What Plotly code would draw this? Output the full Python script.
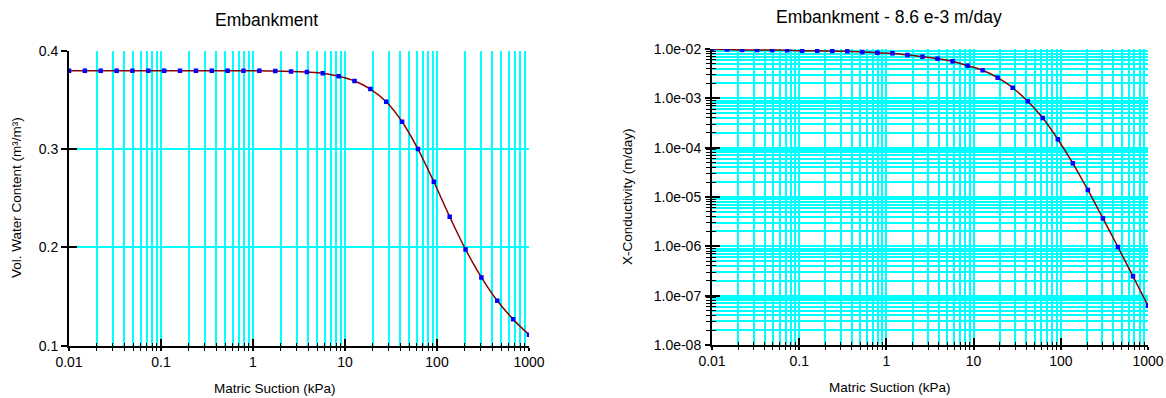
import plotly.graph_objects as go

W, H = 1166, 398

# ---------------- data ----------------
suction = [0.01, 0.014874, 0.022122, 0.032903, 0.048939, 0.07279, 0.10826, 0.16103,
           0.2395, 0.35622, 0.52983, 0.78805, 1.1721, 1.7433, 2.5929, 3.8566, 5.7362,
           8.5317, 12.69, 18.874, 28.072, 41.753, 62.102, 92.367, 137.38, 204.34,
           303.92, 452.04, 672.34, 1000.0]

vwc = [0.3800, 0.3800, 0.3800, 0.3800, 0.3800, 0.3800, 0.3800, 0.3800, 0.3800, 0.3800,
       0.3800, 0.3799, 0.3798, 0.3796, 0.3792, 0.3785, 0.3774, 0.3742, 0.3695, 0.3613,
       0.3484, 0.3280, 0.3002, 0.2669, 0.2313, 0.1980, 0.1695, 0.1457, 0.1268, 0.1111]

kx = [9.86e-3, 9.80e-3, 9.55e-3, 9.55e-3, 9.50e-3, 9.45e-3, 9.24e-3, 9.20e-3, 9.11e-3, 8.98e-3,
      8.69e-3, 8.41e-3, 8.18e-3, 7.56e-3, 6.98e-3, 6.36e-3, 5.63e-3, 4.59e-3, 3.70e-3, 2.62e-3,
      1.64e-3, 8.70e-4, 3.99e-4, 1.48e-4, 4.82e-5, 1.39e-5, 3.70e-6, 9.69e-7, 2.47e-7, 6.25e-8]

x_major = [0.01, 0.1, 1, 10, 100, 1000]
x_major_text = ["0.01", "0.1", "1", "10", "100", "1000"]
x_minor = [m * d for d in [0.01, 0.1, 1, 10, 100] for m in range(2, 10)]

vwc_major = [0.1, 0.2, 0.3, 0.4]
vwc_major_text = ["0.1", "0.2", "0.3", "0.4"]

k_major = [1e-8, 1e-7, 1e-6, 1e-5, 1e-4, 1e-3, 1e-2]
k_major_text = ["1.0e-08", "1.0e-07", "1.0e-06", "1.0e-05", "1.0e-04", "1.0e-03", "1.0e-02"]
k_minor = [m * d for d in [1e-8, 1e-7, 1e-6, 1e-5, 1e-4, 1e-3] for m in range(2, 10)]

title_left = "Embankment"
title_right = "Embankment - 8.6 e-3 m/day"
xlabel = "Matric Suction (kPa)"
ylabel_left = "Vol. Water Content (m³/m³)"
ylabel_right = "X-Conductivity (m/day)"

# ---------------- style ----------------
FONT = "Liberation Sans, Arial, sans-serif"
CYAN = "#00FFFF"
LINE = "#8B0000"
MARK = "#0000FF"
GW = 1.5


def fx(px):
    return px / W


def fy(py):
    return 1 - py / H


# plot areas (pixels)
L_x0, L_x1, L_y0, L_y1 = 69, 529, 51, 345.7
R_x0, R_x1, R_y0, R_y1 = 712, 1148, 49, 345

fig = go.Figure()

fig.add_trace(go.Scatter(x=suction, y=vwc, xaxis="x", yaxis="y", mode="lines+markers",
                         line=dict(color=LINE, width=1.5, shape="spline", smoothing=0.8),
                         marker=dict(color=MARK, size=4.5, symbol="square"),
                         showlegend=False, hoverinfo="x+y"))
fig.add_trace(go.Scatter(x=suction, y=kx, xaxis="x2", yaxis="y2", mode="lines+markers",
                         line=dict(color=LINE, width=1.5, shape="spline", smoothing=0.8),
                         marker=dict(color=MARK, size=4.5, symbol="square"),
                         showlegend=False, hoverinfo="x+y"))
# empty traces on separate subplots that only carry the inner tick marks
fig.add_trace(go.Scatter(x=[None], y=[None], xaxis="x3", yaxis="y3", showlegend=False, hoverinfo="skip"))
fig.add_trace(go.Scatter(x=[None], y=[None], xaxis="x4", yaxis="y4", showlegend=False, hoverinfo="skip"))

tickfont = dict(family=FONT, size=14, color="black")

common_x = dict(type="log", range=[-2, 3], showline=True, linecolor="black", linewidth=2,
                tickmode="array", tickvals=x_major, ticktext=x_major_text,
                ticks="outside", ticklen=3, tickwidth=1.5, tickcolor="black",
                showgrid=True, gridcolor=CYAN, gridwidth=GW,
                minor=dict(tickmode="array", tickvals=x_minor, ticks="outside", ticklen=3,
                           tickwidth=1.2, tickcolor="black", showgrid=True, gridcolor=CYAN, gridwidth=GW),
                tickfont=tickfont, zeroline=False, automargin=False, fixedrange=True,
                ticklabelstandoff=-1)

inner_x = dict(type="log", range=[-2, 3], showline=False,
               tickmode="array", tickvals=x_major, ticktext=["" for _ in x_major],
               ticks="inside", ticklen=7, tickwidth=1.5, tickcolor="black",
               showgrid=False, showticklabels=False,
               minor=dict(tickmode="array", tickvals=x_minor, ticks="inside", ticklen=3,
                          tickwidth=1.2, tickcolor="black", showgrid=False),
               zeroline=False, automargin=False, fixedrange=True)

fig.update_layout(
    width=W, height=H,
    margin=dict(l=0, r=0, t=0, b=0),
    paper_bgcolor="white", plot_bgcolor="rgba(0,0,0,0)",
    font=dict(family=FONT, color="black"),
    xaxis=dict(**common_x, domain=[fx(L_x0), fx(L_x1)], anchor="y"),
    yaxis=dict(range=[0.1, 0.4], domain=[fy(L_y1), fy(L_y0)], anchor="x",
               showline=True, linecolor="black", linewidth=2,
               tickmode="array", tickvals=vwc_major, ticktext=vwc_major_text,
               ticks="outside", ticklen=6, tickwidth=1.5, tickcolor="black",
               showgrid=True, gridcolor=CYAN, gridwidth=GW,
               tickfont=tickfont, zeroline=False, automargin=False, fixedrange=True,
               ticklabelstandoff=0),
    xaxis3=dict(**inner_x, domain=[fx(L_x0), fx(L_x1)], anchor="y3"),
    yaxis3=dict(range=[0.1, 0.4], domain=[fy(L_y1), fy(L_y0)], anchor="x3",
                showline=False, tickmode="array", tickvals=vwc_major,
                ticktext=["" for _ in vwc_major],
                ticks="inside", ticklen=8, tickwidth=1.5, tickcolor="black",
                showgrid=False, showticklabels=False, zeroline=False, automargin=False,
                fixedrange=True),
    xaxis2=dict(**common_x, domain=[fx(R_x0), fx(R_x1)], anchor="y2"),
    yaxis2=dict(type="log", range=[-8, -2], domain=[fy(R_y1), fy(R_y0)], anchor="x2",
                showline=True, linecolor="black", linewidth=2,
                tickmode="array", tickvals=k_major, ticktext=k_major_text,
                ticks="outside", ticklen=5, tickwidth=1.5, tickcolor="black",
                showgrid=True, gridcolor=CYAN, gridwidth=GW,
                minor=dict(tickmode="array", tickvals=k_minor, ticks="outside", ticklen=4,
                           tickwidth=1.2, tickcolor="black", showgrid=True, gridcolor=CYAN, gridwidth=GW),
                tickfont=tickfont, zeroline=False, automargin=False, fixedrange=True,
                ticklabelstandoff=1),
    xaxis4=dict(**inner_x, domain=[fx(R_x0), fx(R_x1)], anchor="y4"),
    yaxis4=dict(type="log", range=[-8, -2], domain=[fy(R_y1), fy(R_y0)], anchor="x4",
                showline=False, tickmode="array", tickvals=k_major, ticktext=["" for _ in k_major],
                ticks="inside", ticklen=8, tickwidth=1.5, tickcolor="black",
                minor=dict(tickmode="array", tickvals=k_minor, ticks="inside", ticklen=4,
                           tickwidth=1.2, tickcolor="black", showgrid=False),
                showgrid=False, showticklabels=False, zeroline=False, automargin=False,
                fixedrange=True),
)

ann = []
ann.append(dict(text=title_left, x=fx(266), y=fy(20), xref="paper", yref="paper",
                xanchor="center", yanchor="middle", showarrow=False,
                font=dict(family=FONT, size=17.5, color="black")))
ann.append(dict(text=title_right, x=fx(888.5), y=fy(17), xref="paper", yref="paper",
                xanchor="center", yanchor="middle", showarrow=False,
                font=dict(family=FONT, size=17.5, color="black")))
ann.append(dict(text=xlabel, x=fx(275), y=fy(388), xref="paper", yref="paper",
                xanchor="center", yanchor="middle", showarrow=False,
                font=dict(family=FONT, size=13.5, color="black")))
ann.append(dict(text=xlabel, x=fx(890), y=fy(387), xref="paper", yref="paper",
                xanchor="center", yanchor="middle", showarrow=False,
                font=dict(family=FONT, size=13.5, color="black")))
ann.append(dict(text=ylabel_left, x=fx(16), y=fy(198), xref="paper", yref="paper",
                xanchor="center", yanchor="middle", showarrow=False, textangle=-90,
                font=dict(family=FONT, size=13.5, color="black")))
ann.append(dict(text=ylabel_right, x=fx(627), y=fy(197), xref="paper", yref="paper",
                xanchor="center", yanchor="middle", showarrow=False, textangle=-90,
                font=dict(family=FONT, size=13.5, color="black")))
fig.update_layout(annotations=ann)

fig.write_html("out.html")
